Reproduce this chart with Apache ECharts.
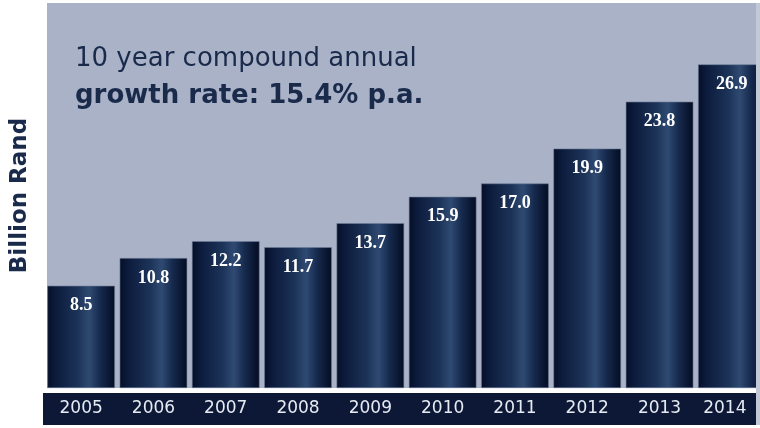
<!DOCTYPE html>
<html>
<head>
<meta charset="utf-8">
<script src="https://cdn.jsdelivr.net/npm/echarts@6/dist/echarts.min.js"></script>
<style>
  html, body { margin: 0; padding: 0; background: #ffffff; }
  #chart { width: 760px; height: 428px; }
</style>
</head>
<body>
<div id="chart"></div>
<script>
// Annual values, billion rand
const years = ['2005', '2006', '2007', '2008', '2009', '2010', '2011', '2012', '2013', '2014'];
const values = [8.5, 10.8, 12.2, 11.7, 13.7, 15.9, 17.0, 19.9, 23.8, 26.9];
const headingLine1 = '10 year compound annual';
const headingLine2 = 'growth rate: 15.4% p.a.';
const yAxisTitle = 'Billion Rand';

const navy = '#1a2a4b';

const barFill = new echarts.graphic.LinearGradient(0, 0, 1, 0, [
  { offset: 0.0, color: '#050e26' },
  { offset: 0.12, color: '#0c1b3c' },
  { offset: 0.45, color: '#1c3358' },
  { offset: 0.62, color: '#2f4a72' },
  { offset: 0.78, color: '#162a4e' },
  { offset: 1.0, color: '#040c22' }
]);

// the last bar is cut by the right edge, so its year is nudged into the visible part
const categoryData = years.map((y, i) =>
  i === years.length - 1 ? { value: y, textStyle: { padding: [0, 14, 0, 0] } } : y
);

const chart = echarts.init(document.getElementById('chart'), null, { renderer: 'canvas' });

chart.setOption({
  backgroundColor: '#ffffff',
  animation: false,
  title: {
    left: 70,
    top: 36,
    text: '{a|' + headingLine1 + '}\n{b|' + headingLine2 + '}',
    textStyle: {
      rich: {
        a: { fontFamily: 'DejaVu Sans', fontSize: 26, fontWeight: 400, color: navy, lineHeight: 37 },
        b: { fontFamily: 'DejaVu Sans', fontSize: 26, fontWeight: 700, color: navy, lineHeight: 37 }
      }
    }
  },
  graphic: [
    {
      type: 'rect', z: -10, silent: true,
      shape: { x: 47, y: 3, width: 709, height: 385 },
      style: { fill: '#aab2c7' }
    },
    {
      type: 'rect', z: -10, silent: true,
      shape: { x: 43, y: 393, width: 713, height: 32 },
      style: { fill: '#0c1836' }
    },
    {
      // light strip along the right edge, drawn over the clipped last bar
      type: 'rect', z: 100, silent: true,
      shape: { x: 756, y: 3, width: 4, height: 422 },
      style: { fill: '#c3c8d6' }
    }
  ],
  // the plot runs past the right edge, so the last bar is cut off there
  grid: { left: 45, top: 3, width: 723, height: 385, outerBoundsMode: 'none', containLabel: false },
  xAxis: {
    type: 'category',
    data: categoryData,
    axisLine: { show: false },
    axisTick: { show: false },
    axisLabel: {
      margin: 12,
      fontFamily: 'DejaVu Sans',
      fontSize: 17,
      color: '#e6eaf2',
      verticalAlign: 'top'
    }
  },
  yAxis: {
    type: 'value',
    min: 0,
    max: 32,
    axisLine: { show: false },
    axisTick: { show: false },
    axisLabel: { show: false },
    splitLine: { show: false },
    name: yAxisTitle,
    nameLocation: 'middle',
    nameRotate: 90,
    nameGap: 13,
    nameTextStyle: {
      fontFamily: 'DejaVu Sans',
      fontSize: 23,
      fontWeight: 700,
      color: navy
    }
  },
  series: [{
    type: 'bar',
    data: values,
    barCategoryGap: '6.5%',
    itemStyle: {
      color: barFill,
      borderColor: '#6f7d99',
      borderWidth: 0.6
    },
    label: {
      show: true,
      position: 'insideTop',
      distance: 11,
      formatter: p => p.value.toFixed(1),
      fontFamily: 'Liberation Serif',
      fontWeight: 700,
      fontSize: 18,
      color: '#ffffff'
    }
  }]
});
</script>
</body>
</html>
